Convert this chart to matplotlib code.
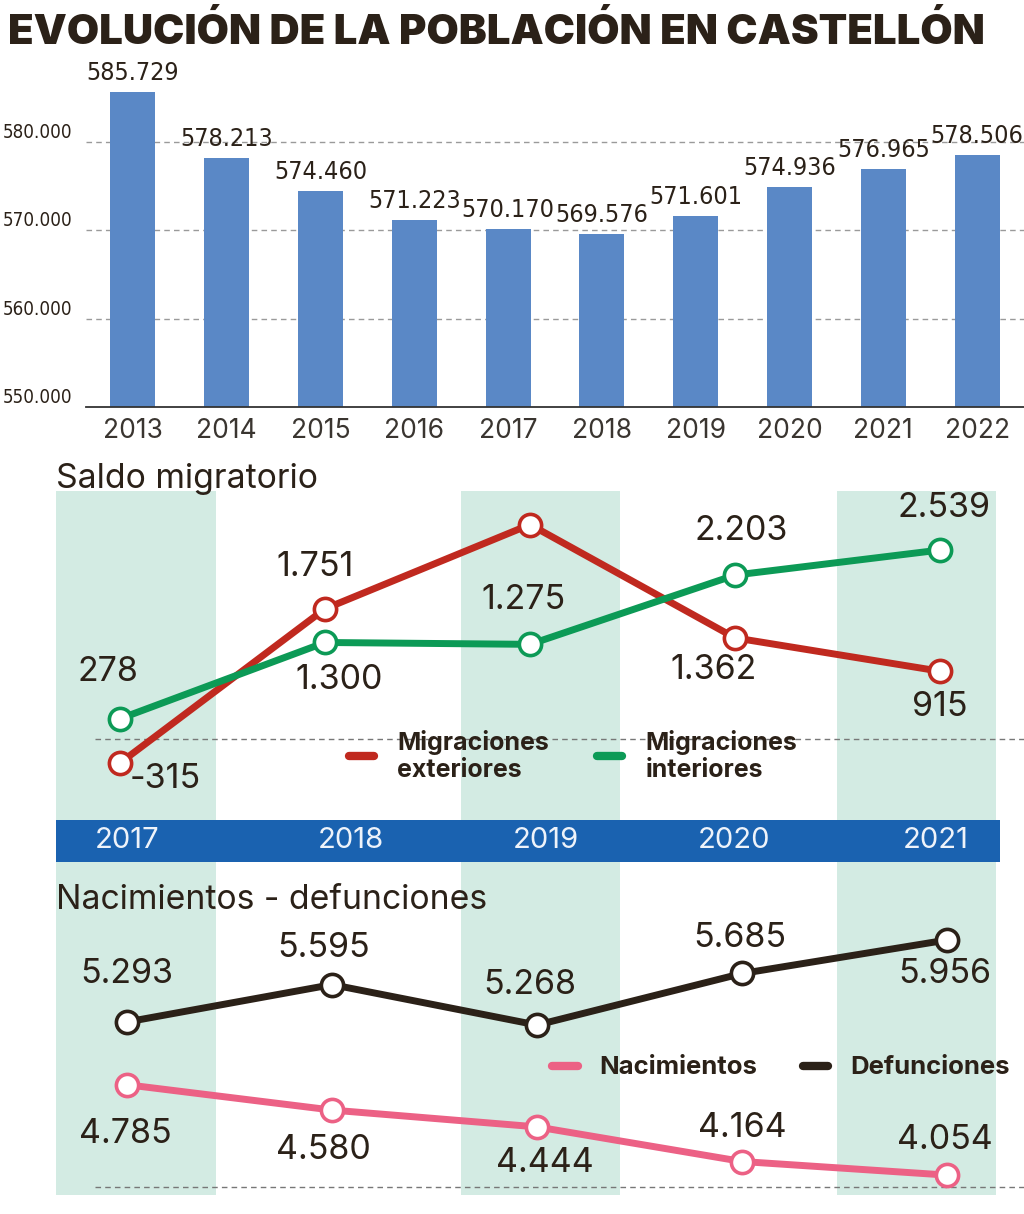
import matplotlib
matplotlib.use("Agg")
import matplotlib.pyplot as plt
from matplotlib.patches import Rectangle
from matplotlib.lines import Line2D

# --- datos ---
anios_pob = ["2013", "2014", "2015", "2016", "2017", "2018", "2019", "2020", "2021", "2022"]
poblacion = [585729, 578213, 574460, 571223, 570170, 569576, 571601, 574936, 576965, 578506]
ticks_pob = [550000, 560000, 570000, 580000]

anios = ["2017", "2018", "2019", "2020", "2021"]
mig_exteriores = [-315, 1751, 2880, 1362, 915]
mig_interiores = [278, 1300, 1275, 2203, 2539]
nacimientos = [4785, 4580, 4444, 4164, 4054]
defunciones = [5293, 5595, 5268, 5685, 5956]

# --- estilos ---
W, H = 1024, 1214
TXT = "#2b2118"
AZUL = "#5a88c6"
ROJO = "#c0291f"
VERDE = "#0c9a56"
ROSA = "#ec6185"
NEGRO = "#2b2118"
FONDO = "#d3ebe3"
BANDA = "#1a62b0"
SANS = ["Inter", "DejaVu Sans"]
NARROW = dict(family=["DejaVu Sans"], stretch="condensed")

plt.rcParams["font.family"] = SANS


def fmt(v):
    return f"{v:,}".replace(",", ".")


def caja(l, t, r, b):
    return [l / W, 1 - b / H, (r - l) / W, (b - t) / H]


fig = plt.figure(figsize=(W / 100, H / 100), dpi=100)

# fondo: columnas sombreadas y franja de años
bg = fig.add_axes([0, 0, 1, 1], zorder=0)
bg.set_xlim(0, W)
bg.set_ylim(H, 0)
bg.axis("off")
for x0, x1 in [(56, 216), (461, 620), (837, 996)]:
    bg.add_patch(Rectangle((x0, 491), x1 - x0, 1195 - 491, color=FONDO, lw=0))
bg.add_patch(Rectangle((56, 820), 1000 - 56, 42, color=BANDA, lw=0))
for a, x in zip(anios, [127, 351, 546, 734, 936]):
    bg.text(x, 841, a, color="#eef3fa", fontsize=21, ha="center", va="center")

titulo = bg.text(8, 32, "EVOLUCIÓN DE LA POBLACIÓN EN CASTELLÓN", color=TXT,
                 fontsize=30, fontweight="black", ha="left", va="center")
fig.canvas.draw()
ancho = titulo.get_window_extent().width
titulo.set_fontsize(30 * 977 / ancho)

bg.text(56, 479, "Saldo migratorio", color=TXT, fontsize=24.3, ha="left", va="center")
bg.text(56, 900, "Nacimientos - defunciones", color=TXT, fontsize=24.3, ha="left", va="center")

# --- barras de población ---
ax = fig.add_axes(caja(86, 62, 1024, 407), zorder=2)
ax.patch.set_alpha(0)
x = range(len(anios_pob))
ax.bar(x, poblacion, width=0.48, color=AZUL, zorder=2)
ax.set_xlim(-0.5, len(anios_pob) - 0.5)
ax.set_ylim(550000, 589070)
for i, v in enumerate(poblacion):
    ax.annotate(fmt(v), (i, v), xytext=(0, 7), textcoords="offset pixels",
                ha="center", va="bottom", fontsize=18, color=TXT, **NARROW)
for t in ticks_pob[1:]:
    ax.axhline(t, color="#9a9a9a", lw=1, ls=(0, (4, 3)), zorder=1)
ax.set_yticks(ticks_pob)
ax.set_yticklabels([fmt(t) for t in ticks_pob], fontsize=13.5, color=TXT, **NARROW)
for lab in ax.get_yticklabels():
    lab.set_va("bottom")
ax.set_xticks(list(x))
ax.set_xticklabels(anios_pob, fontsize=19, color="#3a3530")
ax.tick_params(length=0)
ax.tick_params(axis="y", pad=10)
ax.tick_params(axis="x", pad=8)
for s in ["top", "right", "left"]:
    ax.spines[s].set_visible(False)
ax.spines["bottom"].set_color("#333333")
ax.spines["bottom"].set_linewidth(1.3)


def linea(axe, vals, color, offs, mostrar=None):
    xs = range(len(vals))
    axe.plot(xs, vals, color=color, lw=5, zorder=3, solid_capstyle="round",
             marker="o", markersize=16, markerfacecolor="white",
             markeredgecolor=color, markeredgewidth=2.6)
    for i, (v, (dx, dy)) in enumerate(zip(vals, offs)):
        if mostrar is not None and not mostrar[i]:
            continue
        axe.annotate(fmt(v), (i, v), xytext=(dx, -dy), textcoords="offset pixels",
                     ha="center", va="center", fontsize=24.5, color=TXT, zorder=4)


def limpiar(axe):
    axe.patch.set_alpha(0)
    axe.set_xticks([])
    axe.set_yticks([])
    for s in axe.spines.values():
        s.set_visible(False)


# --- saldo migratorio ---
am = fig.add_axes(caja(56, 491, 1024, 820), zorder=2)
limpiar(am)
am.set_xlim(-64 / 205, (1024 - 120) / 205)
am.set_ylim(-1079, 3330)
am.axhline(0, xmin=39 / 968, xmax=1, color="#777777", lw=1, ls=(0, (4, 3)), zorder=1)
linea(am, mig_exteriores, ROJO, [(45, 16), (-10, -42), (0, 0), (-21, 32), (0, 36)],
      mostrar=[True, True, False, True, True])
linea(am, mig_interiores, VERDE, [(-12, -47), (14, 38), (-6, -44), (6, -44), (4, -42)])
h_mig = [Line2D([], [], color=ROJO, lw=6, solid_capstyle="round"),
         Line2D([], [], color=VERDE, lw=6, solid_capstyle="round")]
am.legend(h_mig, ["Migraciones\nexteriores", "Migraciones\ninteriores"], ncol=2,
          frameon=False, loc="center left", bbox_to_anchor=(270 / 968, (820 - 756) / 329),
          prop={"size": 18, "weight": "bold"}, handlelength=1.0, handletextpad=0.95,
          columnspacing=1.9, labelspacing=0.05, labelcolor=TXT)

# --- nacimientos y defunciones ---
an = fig.add_axes(caja(56, 862, 1024, 1195), zorder=2)
limpiar(an)
an.set_xlim(-71 / 205, (1024 - 127) / 205)
an.set_ylim(3893, 6587)
an.axhline(3958, xmin=39 / 968, xmax=1, color="#777777", lw=1, ls=(0, (4, 3)), zorder=1)
linea(an, defunciones, NEGRO, [(0, -48), (-8, -37), (-7, -40), (-2, -35), (-2, 34)])
linea(an, nacimientos, ROSA, [(-2, 49), (-9, 40), (8, 36), (0, -34), (-2, -35)])
h_nac = [Line2D([], [], color=ROSA, lw=6, solid_capstyle="round"),
         Line2D([], [], color=NEGRO, lw=6, solid_capstyle="round")]
an.legend(h_nac, ["Nacimientos", "Defunciones"], ncol=2, frameon=False,
          loc="center left", bbox_to_anchor=(473 / 968, (1195 - 1068) / 333),
          prop={"size": 18.5, "weight": "bold"}, handlelength=1.0, handletextpad=0.85,
          columnspacing=1.75, labelcolor=TXT)

fig.savefig("out.png", dpi=100)
